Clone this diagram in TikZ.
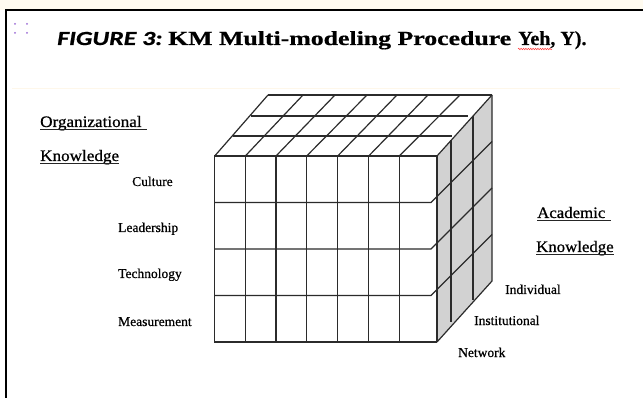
\documentclass[tikz,border=0pt]{standalone}
\usepackage{fontspec}
\setmainfont{Liberation Serif}[BoldFeatures={FakeBold=0.6}]
\newfontfamily\capfont{Carlito}[BoldItalicFeatures={FakeBold=0.8}]
\newfontfamily\lblfont{Liberation Serif}[FakeBold=0.7]
\usetikzlibrary{calc,decorations.pathmorphing}

\definecolor{cream}{HTML}{FFFBF0}
\definecolor{faintline}{HTML}{FEF7EA}
\definecolor{sidegray}{HTML}{D2D2D2}
\definecolor{gridline}{HTML}{2B2B2B}
\definecolor{dotpurple}{HTML}{9B6BD6}

\tikzset{
  grid/.style={draw=gridline, line width=1.2pt},
  frame/.style={draw=black, line width=2.6pt},
  label/.style={anchor=base west, inner sep=0pt, text=black,
    font=\lblfont\fontsize{13.5}{16}\selectfont},
  heading/.style={anchor=base west, inner sep=0pt, text=black,
    font=\lblfont\fontsize{16}{19}\selectfont},
  uline/.style={draw=black!85, line width=1pt},
  titlepart/.style={anchor=base west, inner sep=0pt, text=black},
}

\begin{document}
\begin{tikzpicture}[x=1pt,y=-1pt]
\useasboundingbox (0,0) rectangle (643,398);
\fill[white] (0,0) rectangle (643,398);
\fill[cream] (0,0) rectangle (643,10);

% slide frame (left and top edges)
\draw[frame] (6,398) -- (6,10) -- (643,10);
\draw[faintline, line width=1pt] (12,89) -- (620,89);

% placeholder handle dots
\foreach \px/\py in {15/24, 27/24, 15/33, 27/33}
  \fill[dotpurple] (\px,\py) circle (1pt);

% title
\node[titlepart, font=\capfont\bfseries\itshape\fontsize{20}{24}\selectfont] (fig) at (57,45)
  {\scalebox{1.29}[1]{FIGURE 3:}};
\node[titlepart, font=\bfseries\fontsize{20}{24}\selectfont] (ttl) at (168,45)
  {\scalebox{1.29}[1]{KM Multi-modeling Procedure}};
\node[titlepart, font=\bfseries\fontsize{20}{24}\selectfont] (ref) at (518,45)
  {Yeh, Y).};
\draw[red!80, line width=0.5pt, decorate,
  decoration={snake, amplitude=0.7pt, segment length=2.4pt}]
  ($(ref.base west)+(0,4)$) -- ($(ref.base west)+(34,4)$);

% cube faces
\fill[white] (214,156) rectangle (437,342);
\fill[sidegray] (437,156) -- (492,95) -- (492,281) -- (437,342) -- cycle;

% front face columns
\foreach \x in {214.7,245.3,276,306.7,337.7,368.7,399.3,437}
  \draw[grid] (\x,156) -- (\x,342);
% front face rows
\draw[grid] (214,156) -- (437,156);
\draw[grid] (214,342) -- (437,342);
\foreach \y in {202.5,249,295.5}
  \draw[grid] (214,\y) -- (431,\y) -- (492,\y-61);

% top face
\foreach \a/\b in {214.7/268, 245.3/303, 276/335, 306.7/367, 337.7/397, 368.7/428, 399.3/460, 437/492}
  \draw[grid] (\a,156) -- (\b,95);
\draw[grid] (268,95) -- (492,95);
\draw[grid] (233,136) -- (452,136);
\draw[grid] (251,116) -- (468,116);

% side face
\draw[grid] (492,95) -- (492,281) -- (437,342);
\draw[grid] (451,140.5) -- (451,322);
\draw[grid] (473,116) -- (473,300);

% headings
\node[heading] (org) at (40,127) {\scalebox{1.07}[1]{Organizational}};
\draw[uline] ($(org.base west)+(0,3)$) -- ($(org.base east)+(5,3)$);
\node[heading] (knowl) at (40,161) {\scalebox{1.07}[1]{Knowledge}};
\draw[uline] ($(knowl.base west)+(0,3)$) -- ($(knowl.base east)+(0,3)$);
\node[heading] (acad) at (537,218) {\scalebox{1.05}[1]{Academic}};
\draw[uline] ($(acad.base west)+(0,3)$) -- ($(acad.base east)+(5,3)$);
\node[heading] (knowr) at (536,252) {\scalebox{1.05}[1]{Knowledge}};
\draw[uline] ($(knowr.base west)+(0,3)$) -- ($(knowr.base east)+(0,3)$);

% row labels
\node[label] (cult) at (132,186) {Culture};
\node[label] (lead) at (118,232) {Leadership};
\node[label] (tech) at (118,278) {Technology};
\node[label] (meas) at (118,326) {Measurement};

% depth labels
\node[label] (indiv) at (505,294) {Individual};
\node[label] (inst) at (474,325) {Institutional};
\node[label] (netw) at (458,357) {Network};
\end{tikzpicture}
\end{document}
